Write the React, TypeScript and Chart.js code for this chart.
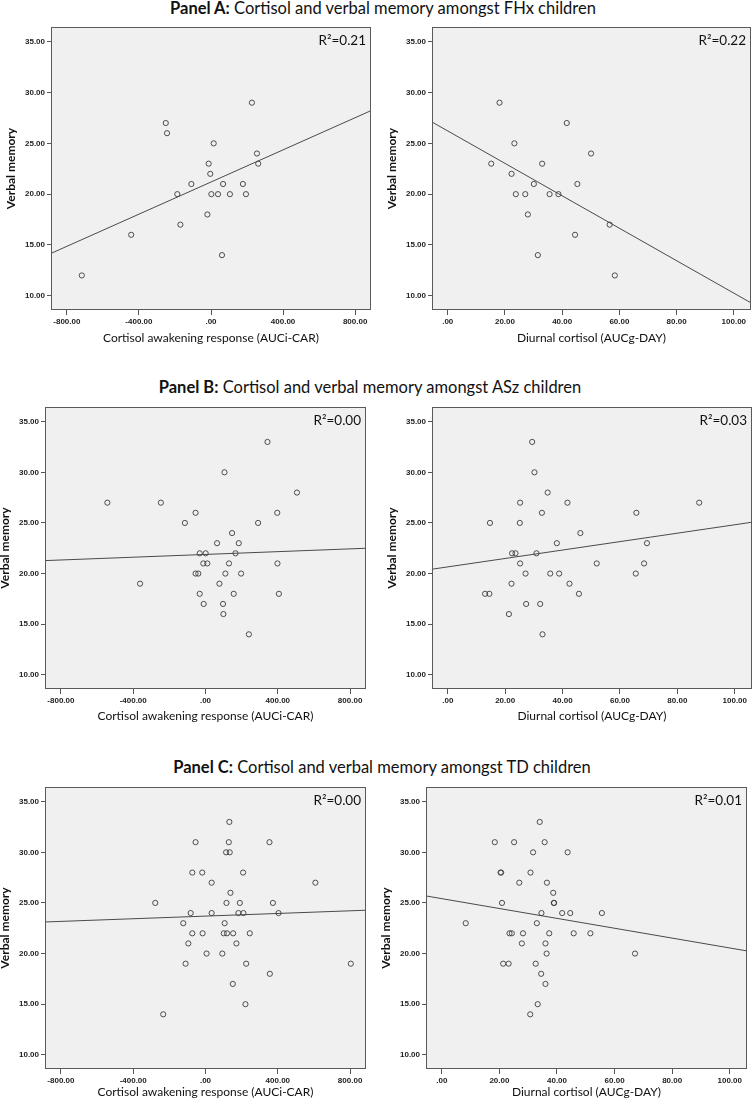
import React, { useEffect, useRef } from "react";
import { Chart, registerables } from "chart.js";

Chart.register(...registerables);

// ---------- tick labels ----------
const carTicks = [-800, -400, 0, 400, 800];
const dayTicks = [0, 20, 40, 60, 80, 100];
const memoryTicks = [10, 15, 20, 25, 30, 35];

const carRange = [-888, 888];
const dayRange = [-5.5, 106];
const memoryRange = [8.6, 36.45];

const carTitle = "Cortisol awakening response (AUCi-CAR)";
const dayTitle = "Diurnal cortisol (AUCg-DAY)";
const memoryTitle = "Verbal memory";

// ---------- Panel A: FHx ----------
const fhxCarX = [-717, -443, -251, -244, -187, -170, -109, -20, -13, -4, 2, 15, 39, 61, 67, 105, 177, 194, 227, 255, 262];
const fhxCarY = [12, 16, 27, 26, 20, 17, 21, 18, 23, 22, 20, 25, 20, 14, 21, 20, 21, 20, 29, 24, 23];
const fhxCarFitY = [14.17, 28.22];
const fhxDayX = [15.2, 18.1, 22.3, 23.3, 23.8, 27.1, 28.0, 30.1, 31.5, 33.0, 35.6, 38.7, 41.6, 45.3, 44.5, 50.1, 56.6, 58.4];
const fhxDayY = [23, 29, 22, 25, 20, 20, 18, 21, 14, 23, 20, 20, 27, 21, 16, 24, 17, 12];
const fhxDayFitY = [27.1, 9.3];

// ---------- Panel B: ASz ----------
const aszCarX = [-543, -362, -247, -114, -55, -55, -40, -32, -32, -12, -10, 1, 10, 64, 77, 97, 99, 105, 110, 130, 147, 156, 166, 184, 197, 240, 291, 343, 397, 398, 406, 506];
const aszCarY = [27, 19, 27, 25, 26, 20, 20, 22, 18, 21, 17, 22, 21, 23, 19, 17, 16, 30, 20, 21, 24, 18, 22, 23, 20, 14, 25, 33, 26, 21, 18, 28];
const aszCarFitY = [21.28, 22.5];
const aszDayX = [13.0, 14.5, 14.7, 21.3, 22.2, 22.4, 23.6, 25.1, 25.2, 25.2, 27.1, 27.3, 29.4, 30.2, 30.9, 32.2, 32.8, 33.0, 34.8, 35.7, 38.0, 38.8, 41.7, 42.4, 45.7, 46.2, 51.9, 65.5, 65.7, 68.4, 69.4, 87.6];
const aszDayY = [18, 18, 25, 16, 19, 22, 22, 25, 27, 21, 20, 17, 33, 30, 22, 17, 26, 14, 28, 20, 23, 20, 27, 19, 18, 24, 21, 20, 26, 21, 23, 27];
const aszDayFitY = [20.43, 25.07];

// ---------- Panel C: TD ----------
const tdCarX = [-278, -234, -123, -110, -95, -82, -73, -73, -55, -18, -16, 6, 34, 34, 93, 101, 106, 116, 114, 119, 129, 132, 134, 138, 151, 153, 171, 182, 190, 208, 210, 221, 225, 245, 354, 356, 373, 404, 608, 804];
const tdCarY = [25, 14, 23, 19, 21, 24, 28, 22, 31, 28, 22, 20, 27, 24, 20, 22, 23, 25, 30, 22, 31, 33, 30, 26, 17, 22, 21, 24, 25, 28, 24, 15, 19, 22, 31, 18, 25, 24, 27, 19];
const tdCarFitY = [23.12, 24.28];
const tdDayX = [8.3, 18.4, 20.4, 20.6, 20.9, 21.3, 23.2, 23.5, 24.3, 25.1, 26.9, 27.8, 28.2, 30.7, 30.8, 31.7, 32.6, 33.0, 33.3, 34.0, 34.5, 34.6, 35.7, 36.0, 36.0, 36.4, 36.5, 37.3, 38.7, 38.9, 39.0, 41.8, 43.7, 44.6, 45.8, 51.6, 55.6, 67.1];
const tdDayY = [23, 31, 28, 28, 25, 19, 19, 22, 22, 31, 27, 21, 22, 14, 28, 30, 19, 23, 15, 33, 18, 24, 31, 17, 21, 20, 27, 22, 26, 25, 25, 24, 30, 24, 22, 22, 24, 20];
const tdDayFitY = [25.69, 20.26];

const r2Labels = ["R²=0.21", "R²=0.22", "R²=0.00", "R²=0.03", "R²=0.00", "R²=0.01"];

const panelTitles = [
  { bold: "Panel A:", rest: " Cortisol and verbal memory amongst FHx children", cx: 383, cy: 8 },
  { bold: "Panel B:", rest: " Cortisol and verbal memory amongst ASz children", cx: 370, cy: 387 },
  { bold: "Panel C:", rest: " Cortisol and verbal memory amongst TD children", cx: 382, cy: 767 },
];

type Spec = {
  xs: number[];
  ys: number[];
  fitY: number[];
  kind: "car" | "day";
  r2: string;
  plot: { l: number; t: number; r: number; b: number };
  xTitleY: number;
};

const specs: Spec[] = [
  { xs: fhxCarX, ys: fhxCarY, fitY: fhxCarFitY, kind: "car", r2: r2Labels[0], plot: { l: 51, t: 27, r: 371, b: 310 }, xTitleY: 338 },
  { xs: fhxDayX, ys: fhxDayY, fitY: fhxDayFitY, kind: "day", r2: r2Labels[1], plot: { l: 432, t: 27, r: 751, b: 310 }, xTitleY: 338 },
  { xs: aszCarX, ys: aszCarY, fitY: aszCarFitY, kind: "car", r2: r2Labels[2], plot: { l: 45, t: 407, r: 366, b: 689 }, xTitleY: 716 },
  { xs: aszDayX, ys: aszDayY, fitY: aszDayFitY, kind: "day", r2: r2Labels[3], plot: { l: 432, t: 407, r: 752, b: 689 }, xTitleY: 716 },
  { xs: tdCarX, ys: tdCarY, fitY: tdCarFitY, kind: "car", r2: r2Labels[4], plot: { l: 45, t: 787, r: 366, b: 1069 }, xTitleY: 1092 },
  { xs: tdDayX, ys: tdDayY, fitY: tdDayFitY, kind: "day", r2: r2Labels[5], plot: { l: 426, t: 787, r: 747, b: 1069 }, xTitleY: 1092 },
];

const fmt = (v: number) => (v === 0 ? ".00" : Number(v).toFixed(2));

const TICK_FONT = { family: "'Liberation Sans', Arial, sans-serif", size: 8, weight: "bold" as const };
const SANS = "Lato, 'Open Sans', sans-serif";

function ScatterPanel({ spec }: { spec: Spec }) {
  const ref = useRef<HTMLCanvasElement>(null);
  const yTitleSize = 12;
  const xTitleSize = 12;
  const cl = Math.round(spec.plot.l - 40 - (yTitleSize * 1.2) / 2);
  const ct = spec.plot.t - 8;
  const cr = spec.plot.r + 2;
  const cb = Math.round(spec.xTitleY + (xTitleSize * 1.2) / 2);
  const w = cr - cl;
  const h = cb - ct;

  useEffect(() => {
    const isCar = spec.kind === "car";
    const xr = isCar ? carRange : dayRange;
    const xt = isCar ? carTicks : dayTicks;
    const points = spec.xs.map((x, i) => ({ x, y: spec.ys[i] }));
    const fit = xr.map((x, i) => ({ x, y: spec.fitY[i] }));

    const framePlugin = {
      id: "frame",
      beforeDraw(c: any) {
        const a = c.chartArea;
        const ctx = c.ctx;
        ctx.save();
        ctx.fillStyle = "#f0f0f0";
        ctx.fillRect(a.left, a.top, a.right - a.left, a.bottom - a.top);
        ctx.restore();
      },
      afterDraw(c: any) {
        const a = c.chartArea;
        const ctx = c.ctx;
        ctx.save();
        ctx.strokeStyle = "#5a5a5a";
        ctx.lineWidth = 1;
        ctx.strokeRect(Math.round(a.left) + 0.5, Math.round(a.top) + 0.5, Math.round(a.right - a.left) - 1, Math.round(a.bottom - a.top) - 1);
        ctx.fillStyle = "#111";
        ctx.font = `13.5px ${SANS}`;
        ctx.textAlign = "right";
        ctx.textBaseline = "middle";
        ctx.fillText(spec.r2, a.right - 5, a.top + 14);
        ctx.restore();
      },
    };

    const chart = new Chart(ref.current as HTMLCanvasElement, {
      type: "scatter",
      data: {
        datasets: [
          {
            type: "scatter",
            data: points,
            pointStyle: "circle",
            pointRadius: 2.6,
            pointBorderWidth: 0.9,
            pointBorderColor: "#3c3c3c",
            pointBackgroundColor: "rgba(0,0,0,0)",
            order: 1,
          } as any,
          {
            type: "line",
            data: fit,
            borderColor: "#4a4a4a",
            borderWidth: 1,
            pointRadius: 0,
            fill: false,
            order: 2,
          } as any,
        ],
      },
      options: {
        animation: false,
        responsive: false,
        devicePixelRatio: 1,
        events: [],
        layout: {
          autoPadding: false,
          padding: { top: spec.plot.t - ct, right: cr - spec.plot.r, bottom: 0, left: 0 },
        } as any,
        plugins: { legend: { display: false }, tooltip: { enabled: false } },
        scales: {
          x: {
            type: "linear",
            min: xr[0],
            max: xr[1],
            afterBuildTicks: (s: any) => {
              s.ticks = xt.map((v) => ({ value: v }));
            },
            afterFit: (s: any) => {
              s.height = cb - spec.plot.b;
            },
            ticks: {
              autoSkip: false,
              maxRotation: 0,
              padding: 2,
              color: "#222",
              font: TICK_FONT,
              callback: (v: any) => fmt(v),
            },
            grid: { display: true, drawOnChartArea: false, drawTicks: true, tickLength: 5, color: "#555", lineWidth: 1 },
            border: { display: false },
            title: { display: true, text: spec.kind === "car" ? carTitle : dayTitle, color: "#111", font: { family: SANS, size: xTitleSize }, padding: 0 },
          } as any,
          y: {
            type: "linear",
            min: memoryRange[0],
            max: memoryRange[1],
            afterBuildTicks: (s: any) => {
              s.ticks = memoryTicks.map((v) => ({ value: v }));
            },
            afterFit: (s: any) => {
              s.width = spec.plot.l - cl;
            },
            ticks: {
              autoSkip: false,
              padding: 2,
              color: "#222",
              font: TICK_FONT,
              callback: (v: any) => fmt(v),
            },
            grid: { display: true, drawOnChartArea: false, drawTicks: true, tickLength: 4, color: "#555", lineWidth: 1 },
            border: { display: false },
            title: { display: true, text: memoryTitle, color: "#111", font: { family: SANS, size: yTitleSize, weight: "bold" }, padding: 0 },
          } as any,
        },
      },
      plugins: [framePlugin],
    });
    return () => chart.destroy();
  }, []);

  return (
    <canvas
      ref={ref}
      width={w}
      height={h}
      style={{ position: "absolute", left: cl, top: ct, width: w, height: h }}
    />
  );
}

export default function App() {
  return (
    <div style={{ position: "absolute", left: 0, top: 0, width: 753, height: 1104, background: "#fff", overflow: "hidden" }}>
      {panelTitles.map((p, i) => (
        <div
          key={i}
          style={{
            position: "absolute",
            left: p.cx - 376.5,
            width: 753,
            top: p.cy - 11,
            height: 22,
            lineHeight: "22px",
            textAlign: "center",
            fontFamily: SANS,
            fontSize: 16.5,
            color: "#111",
            whiteSpace: "nowrap",
          }}
        >
          <b>{p.bold}</b>
          {p.rest}
        </div>
      ))}
      {specs.map((s, i) => (
        <ScatterPanel key={i} spec={s} />
      ))}
    </div>
  );
}
